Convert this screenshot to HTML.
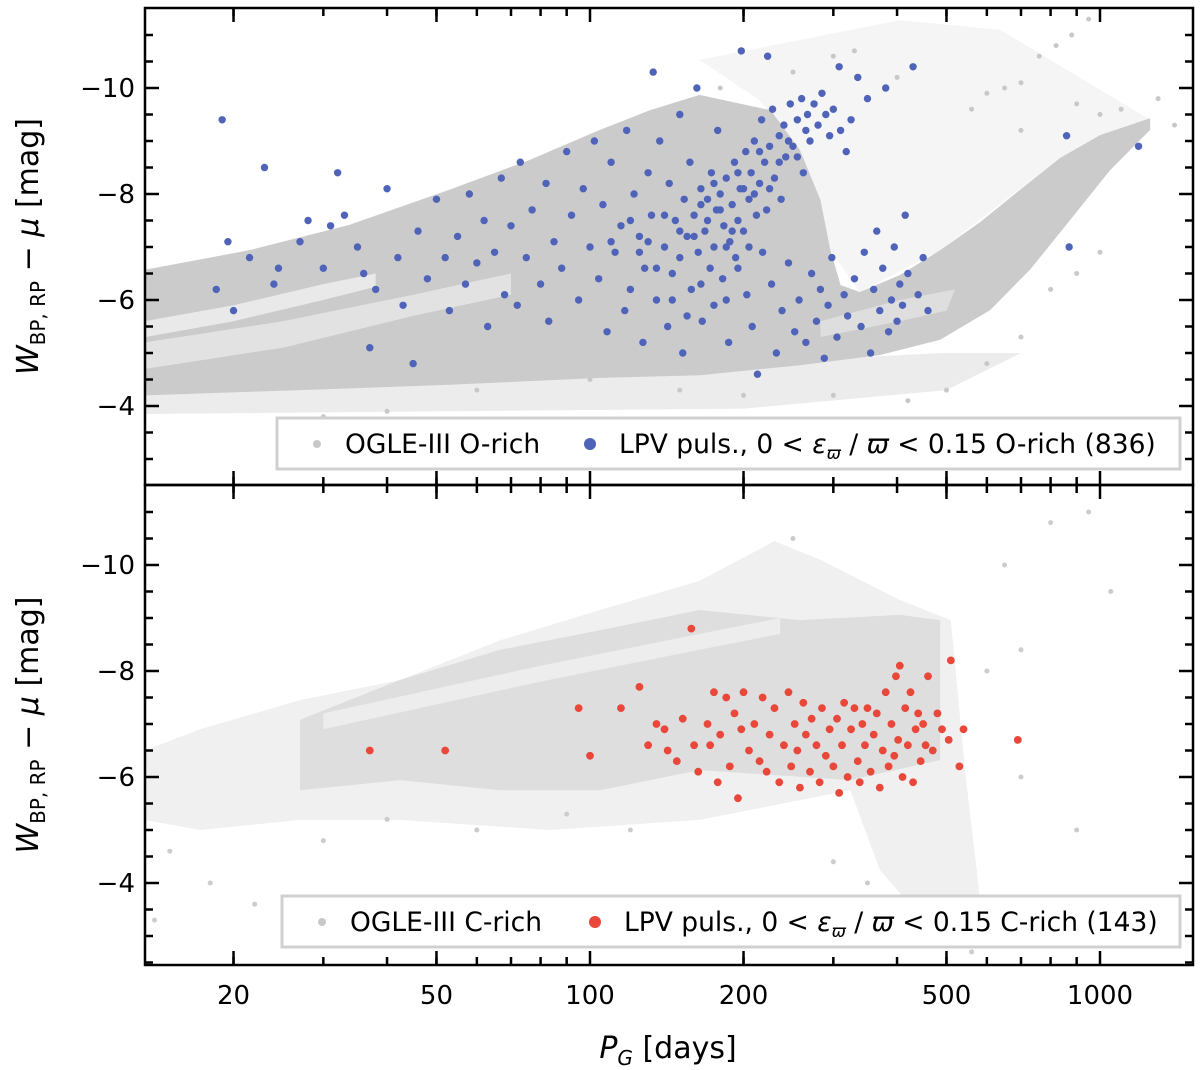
<!DOCTYPE html>
<html><head><meta charset="utf-8"><style>
body{margin:0;background:#fff;}
svg{display:block;font-family:"DejaVu Sans","Liberation Sans",sans-serif;}
</style></head><body>
<svg id="c" width="1200" height="1070"></svg>
<script>
// ---- data ----
const xTicks=[20,50,100,200,500,1000];
const xTickLabels=["20","50","100","200","500","1000"];
const xMinor=[20,30,40,50,60,70,80,90,200,300,400,500,600,700,800,900];
const yTicks=[-4,-6,-8,-10];
const yTickLabels=["\u22124","\u22126","\u22128","\u221210"];
// O-rich grey regions (period, mag)
const oEnvelope=[[13.4,-4.2],[27,-4.3],[53,-4.4],[104.6,-4.53],[164,-4.58],[258,-4.77],[370,-4.96],[486,-5.25],[609,-5.81],[729,-6.57],[874,-7.51],[1047,-8.45],[1254,-9.21],[1254,-9.43],[1000,-9.11],[835,-8.68],[697,-8.08],[582,-7.47],[486,-6.94],[405,-6.47],[338,-6.15],[310,-6.28],[296,-6.94],[283,-7.89],[258,-8.83],[226,-9.58],[164,-9.87],[131,-9.58],[104.6,-9.21],[76,-8.64],[53,-8.08],[33.8,-7.42],[21.5,-6.94],[13.4,-6.57]];
const oSparseRegion=[[164,-10.53],[405,-11.28],[637,-11.1],[1254,-9.4],[835,-8.68],[486,-6.94],[338,-6.15],[296,-6.94],[258,-8.83],[215,-9.77]];
const oFaint=[[13.4,-4.2],[486,-5.0],[700,-5.0],[500,-4.3],[200,-3.95],[13.4,-3.85]];
const oCore1=[[13.4,-5.6],[20,-5.9],[30,-6.3],[38,-6.5],[38,-6.25],[30,-6.0],[20,-5.6],[13.4,-5.3]];
const oCore2=[[13.4,-4.7],[25,-5.1],[45,-5.7],[70,-6.1],[70,-6.5],[45,-6.1],[25,-5.6],[13.4,-5.2]];
const oCore3=[[283,-5.3],[405,-5.6],[500,-5.8],[520,-6.2],[405,-6.0],[283,-5.6]];
const oSparse=[[700,-10.1],[760,-10.6],[820,-10.8],[880,-11.0],[650,-10.0],[950,-11.3],[560,-9.6],[600,-9.9],[1000,-9.5],[1100,-9.6],[300,-10.6],[330,-10.7],[400,-10.2],[250,-10.3],[180,-10.0],[700,-9.2],[900,-9.7],[1300,-9.8],[1400,-9.3],[500,-4.3],[420,-4.1],[300,-4.2],[200,-4.2],[150,-4.3],[100,-4.5],[60,-4.3],[40,-3.9],[30,-3.8],[600,-4.8],[700,-5.3],[900,-6.5],[1000,-6.9],[800,-6.2]];
const blueP=[[19,-9.4],[19.5,-7.1],[18.5,-6.2],[20,-5.8],[21.5,-6.8],[23,-8.5],[24,-6.3],[24.5,-6.6],[27,-7.1],[28,-7.5],[30,-6.6],[31,-7.4],[32,-8.4],[33,-7.6],[35,-7.0],[36,-6.5],[37,-5.1],[38,-6.2],[40,-8.1],[42,-6.8],[43,-5.9],[45,-4.8],[46,-7.3],[48,-6.4],[50,-7.9],[52,-6.8],[53,-5.8],[55,-7.2],[57,-6.3],[58,-8.0],[60,-6.7],[62,-7.5],[63,-5.5],[65,-6.9],[67,-8.3],[68,-6.1],[70,-7.4],[72,-5.9],[73,-8.6],[75,-6.8],[77,-7.7],[80,-6.3],[82,-8.2],[83,-5.6],[85,-7.1],[88,-6.6],[90,-8.8],[92,-7.6],[95,-6.0],[97,-8.1],[100,-7.0],[102,-9.0],[104,-6.4],[106,-7.8],[108,-5.4],[110,-8.6],[112,-6.9],[115,-7.4],[117,-5.8],[118,-9.2],[120,-6.2],[122,-8.0],[125,-7.2],[127,-5.2],[128,-6.6],[130,-8.4],[132,-7.6],[133,-10.3],[135,-6.0],[137,-9.0],[140,-7.0],[142,-5.5],[143,-8.2],[145,-6.5],[147,-7.5],[150,-9.5],[150,-6.8],[152,-5.0],[153,-7.9],[155,-7.2],[157,-8.6],[158,-6.2],[160,-7.6],[162,-10.0],[163,-6.9],[165,-8.1],[166,-5.6],[168,-7.3],[170,-7.9],[172,-6.6],[173,-8.4],[175,-7.0],[177,-7.7],[178,-9.2],[180,-8.0],[182,-6.4],[183,-7.4],[185,-8.3],[187,-5.2],[188,-7.1],[190,-7.8],[192,-8.6],[193,-6.8],[195,-7.5],[197,-8.1],[198,-10.7],[200,-7.3],[202,-8.8],[203,-6.1],[205,-7.9],[207,-8.4],[208,-5.5],[210,-9.0],[212,-7.6],[213,-4.6],[215,-8.2],[217,-9.4],[218,-6.9],[220,-8.6],[222,-7.7],[223,-10.6],[225,-8.9],[227,-6.3],[228,-9.6],[230,-8.3],[232,-5.0],[235,-9.1],[237,-7.9],[238,-5.8],[240,-9.3],[242,-8.7],[245,-6.7],[247,-9.7],[250,-8.9],[252,-5.4],[255,-9.4],[257,-6.0],[260,-9.8],[262,-8.4],[265,-5.2],[267,-9.5],[270,-9.0],[272,-6.5],[275,-9.7],[278,-5.6],[280,-9.3],[283,-6.2],[285,-9.9],[288,-4.9],[290,-9.5],[293,-5.9],[295,-9.1],[298,-6.8],[300,-9.6],[305,-5.3],[308,-10.4],[310,-9.2],[315,-6.1],[318,-8.8],[320,-5.7],[325,-9.4],[330,-6.4],[335,-10.2],[340,-5.5],[345,-6.9],[350,-9.8],[355,-5.0],[360,-6.2],[365,-7.3],[370,-5.8],[375,-6.6],[380,-10.0],[385,-5.4],[390,-6.0],[395,-7.0],[400,-5.6],[405,-6.3],[410,-5.9],[415,-7.6],[420,-6.5],[430,-10.4],[440,-6.1],[450,-6.8],[460,-5.8],[860,-9.1],[870,-7.0],[1190,-8.9],[160,-7.2],[170,-7.5],[180,-7.7],[190,-7.3],[200,-8.1],[210,-8.0],[175,-8.2],[185,-7.0],[195,-8.4],[165,-7.8],[215,-8.8],[225,-8.1],[235,-8.6],[245,-9.0],[255,-8.7],[265,-9.2],[150,-7.3],[140,-7.6],[130,-7.1],[120,-7.5],[110,-7.1],[205,-7.0],[195,-6.6],[185,-6.0],[175,-5.9],[165,-6.3],[155,-5.7],[145,-6.0],[135,-6.6],[125,-6.9]];
// C-rich grey regions
const cEnvelope=[[13.4,-6.5],[13.4,-5.19],[17.2,-5.0],[27,-5.19],[42.4,-5.19],[83.5,-5.0],[164,-5.19],[324,-5.75],[370,-4.25],[486,-2.92],[582,-3.68],[544,-6.1],[510,-8.96],[405,-9.34],[283,-10.1],[230,-10.45],[164,-9.7],[104.6,-9.15],[66.7,-8.58],[42.4,-7.83],[27,-7.45],[17.2,-6.9]];
const cBand=[[27,-7.08],[42.4,-7.83],[66.7,-8.4],[104.6,-8.77],[164,-9.15],[258,-8.96],[405,-9.06],[486,-8.96],[486,-6.32],[324,-5.94],[164,-6.13],[104.6,-5.75],[66.7,-5.75],[42.4,-5.94],[27,-5.75]];
const cCore=[[30,-7.2],[80,-8.1],[164,-8.7],[236,-9.0],[236,-8.7],[164,-8.4],[80,-7.8],[30,-6.9]];
const cSparse=[[15,-4.6],[18,-4.0],[22,-3.6],[14,-3.3],[30,-4.8],[40,-5.2],[60,-5.0],[90,-5.3],[120,-5.0],[300,-4.4],[350,-4.0],[420,-3.5],[450,-3.2],[500,-3.6],[520,-3.0],[560,-2.7],[650,-10.0],[800,-10.8],[950,-11.0],[1050,-9.5],[700,-8.4],[600,-8.0],[250,-10.5],[900,-5.0],[700,-6.0]];
const redP=[[37,-6.5],[52,-6.5],[95,-7.3],[100,-6.4],[115,-7.3],[125,-7.7],[130,-6.6],[135,-7.0],[140,-6.9],[142,-6.5],[148,-6.3],[152,-7.1],[158,-8.8],[160,-6.6],[163,-6.1],[170,-7.0],[172,-6.6],[175,-7.6],[178,-5.9],[180,-6.8],[185,-7.5],[188,-6.2],[192,-7.2],[195,-5.6],[198,-6.9],[200,-7.6],[205,-6.5],[210,-7.0],[215,-6.3],[218,-7.5],[222,-6.1],[225,-6.8],[230,-7.3],[235,-5.9],[240,-6.6],[245,-7.6],[248,-6.2],[252,-7.0],[255,-6.5],[258,-5.8],[262,-7.4],[265,-6.8],[270,-6.1],[272,-7.1],[278,-6.6],[282,-5.9],[285,-7.3],[290,-6.4],[295,-6.9],[300,-6.2],[305,-7.1],[308,-5.7],[312,-6.6],[315,-7.4],[320,-6.0],[325,-6.9],[330,-7.3],[335,-6.3],[338,-5.9],[342,-7.0],[346,-6.6],[350,-7.3],[355,-6.1],[360,-6.8],[365,-7.2],[370,-5.8],[375,-6.5],[380,-7.6],[385,-6.2],[390,-7.0],[395,-6.4],[398,-7.9],[402,-6.7],[405,-8.1],[410,-6.0],[415,-7.3],[420,-6.6],[425,-7.6],[430,-5.9],[435,-6.9],[440,-7.2],[445,-6.3],[450,-7.0],[455,-6.6],[460,-7.9],[470,-6.5],[480,-7.2],[490,-6.9],[505,-6.7],[510,-8.2],[530,-6.2],[540,-6.9],[690,-6.7]];

// ---- axes ----
const L=145,R=1193;
const X=p=>590+(Math.log10(p)-2)*510;
const panels=[{top:8,bot:485,y:m=>88+(m+10)*53},{top:485,bot:965,y:m=>565+(m+10)*53}];
const svg=document.getElementById('c');
const NS='http://www.w3.org/2000/svg';
function el(t,a,parent){const e=document.createElementNS(NS,t);for(const k in a)e.setAttribute(k,a[k]);(parent||svg).appendChild(e);return e;}
const clip=el('clipPath',{id:'cp'});el('rect',{x:L,y:8,width:R-L,height:957},clip);
const gA=el('g',{'clip-path':'url(#cp)'});
function poly(pts,P,fill,name){const e=el('polygon',{points:pts.map(d=>X(d[0])+','+P.y(d[1])).join(' '),fill:fill},gA);

return e;}
function dots(pts,P,r,fill,name){const g=el('g',{},gA);


pts.forEach(d=>{el('circle',{cx:X(d[0]),cy:P.y(d[1]),r:r,fill:fill},g);});}

let P=panels[0];
poly(oSparseRegion,P,'#f5f5f5','o-rich-sparse-region');
poly(oFaint,P,'#ececec','o-rich-faint-edge');
poly(oEnvelope,P,'#cbcbcb','o-rich-cloud');
poly(oCore1,P,'#e9e9e9','o-rich-core-1');
poly(oCore2,P,'#e2e2e2','o-rich-core-2');
poly(oCore3,P,'#dedede','o-rich-core-3');
dots(oSparse,P,2.5,'#c8c8c8','o-rich-sparse-points');
dots(blueP,P,3.7,'#4f63b9','lpv-o-rich-points');
P=panels[1];
poly(cEnvelope,P,'#f0f0f0','c-rich-sparse-cloud');
poly(cBand,P,'#dedede','c-rich-cloud');
poly(cCore,P,'#ededed','c-rich-core');
dots(cSparse,P,2.5,'#cccccc','c-rich-sparse-points');
dots(redP,P,3.9,'#e8473a','lpv-c-rich-points');

// legends
function legend(y,x,grey,col,colName,count,n){const g=el('g',{});


el('rect',{x:x,y:y,width:1180-x,height:51,fill:'#fff',stroke:'#d0d0d0','stroke-width':3},g);
el('circle',{cx:x+40,cy:y+26,r:4,fill:'#c8c8c8'},g);
const t1=el('text',{x:x+68,y:y+35,'font-size':26.5},g);t1.textContent=grey;
el('circle',{cx:x+313,cy:y+26,r:6,fill:col},g);
const t2=el('text',{x:x+342,y:y+35,'font-size':26.5},g);
t2.innerHTML='LPV puls., 0 &lt; <tspan font-style="italic">ε</tspan><tspan font-style="italic" font-size="17" dy="6">ϖ</tspan><tspan dy="-6"> / </tspan><tspan font-style="italic">ϖ</tspan> &lt; 0.15 '+colName+' ('+count+')';}
legend(418,277,'OGLE-III O-rich','#4f63b9','O-rich',836,'legend-top');
legend(896,282,'OGLE-III C-rich','#e8473a','C-rich',143,'legend-bottom');

// frames and ticks
const ax=el('g',{stroke:'#000','stroke-width':2.5,fill:'none'});


panels.forEach(P=>{
 el('rect',{x:L,y:P.top,width:R-L,height:P.bot-P.top},ax);
 xTicks.forEach(t=>{const x=X(t);el('line',{x1:x,x2:x,y1:P.top,y2:P.top+14},ax);el('line',{x1:x,x2:x,y1:P.bot,y2:P.bot-14},ax);});
 xMinor.forEach(t=>{const x=X(t);el('line',{x1:x,x2:x,y1:P.top,y2:P.top+8},ax);el('line',{x1:x,x2:x,y1:P.bot,y2:P.bot-8},ax);});
 for(let m=-11.5;m<=-2.5;m+=0.5){const y=P.y(m);if(y<=P.top+1||y>=P.bot-1)continue;const maj=yTicks.includes(m);const l=maj?14:8;
  el('line',{x1:L,x2:L+l,y1:y,y2:y},ax);el('line',{x1:R,x2:R-l,y1:y,y2:y},ax);}
 yTicks.forEach((t,i)=>{const tx=el('text',{x:L-10,y:P.y(t)+9,'font-size':26,'text-anchor':'end'});tx.textContent=yTickLabels[i];
  
  });
 const yl=el('text',{transform:'translate(38,'+((P.top+P.bot)/2)+') rotate(-90)','font-size':30,'text-anchor':'middle'});
 yl.innerHTML='<tspan font-style="italic">W</tspan><tspan font-size="20" dy="7">BP, RP</tspan><tspan dy="-7"> − </tspan><tspan font-style="italic">μ</tspan> [mag]';
 
 
});
xTicks.forEach((t,i)=>{const tx=el('text',{x:X(t),y:1004,'font-size':26,'text-anchor':'middle'});tx.textContent=xTickLabels[i];
 
 });
const xl=el('text',{x:668,y:1058,'font-size':30,'text-anchor':'middle'});
xl.innerHTML='<tspan font-style="italic">P</tspan><tspan font-style="italic" font-size="20" dy="7">G</tspan><tspan dy="-7"> [days]</tspan>';


</script>
</body></html>
